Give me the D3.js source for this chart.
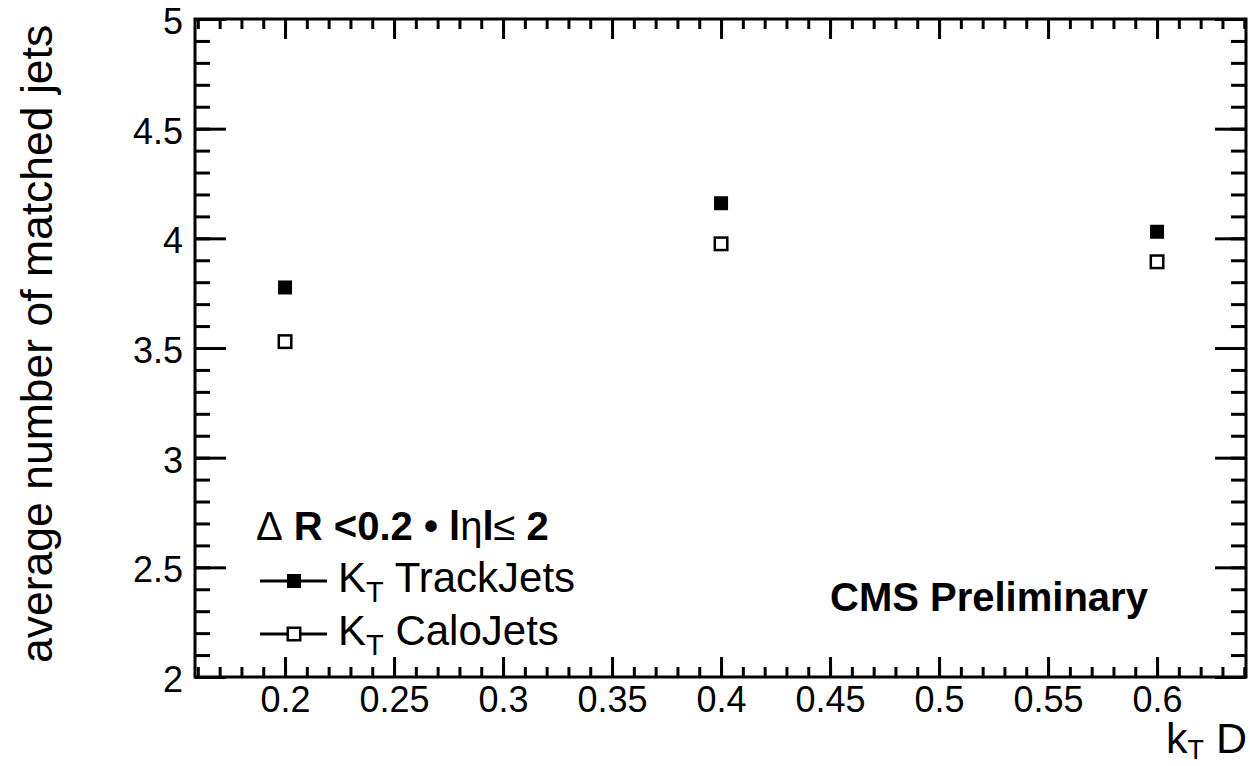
<!DOCTYPE html>
<html>
<head>
<meta charset="utf-8">
<script src="https://cdn.jsdelivr.net/npm/d3@7"></script>
<style>
  html, body { margin: 0; padding: 0; background: #fff; }
  svg { display: block; font-family: "Liberation Sans", Arial, Helvetica, sans-serif; }
</style>
</head>
<body>
<svg id="chart" width="1250" height="766"></svg>
<script>
// Jet distance parameter D of the kT algorithm
const kTD = [0.2, 0.4, 0.6];
// Average number of matched jets per event
const trackJets = [3.776, 4.160, 4.030];
const caloJets  = [3.529, 3.975, 3.893];

const xMajorTicks = [0.2, 0.25, 0.3, 0.35, 0.4, 0.45, 0.5, 0.55, 0.6];
const yMajorTicks = [2, 2.5, 3, 3.5, 4, 4.5, 5];

const xDomain = [0.1587, 0.6408];
const yDomain = [2, 5];

const frame = { left: 195, right: 1246, top: 19, bottom: 677 };

const svg = d3.select("#chart");

const x = d3.scaleLinear().domain(xDomain).range([frame.left, frame.right]);
const y = d3.scaleLinear().domain(yDomain).range([frame.bottom, frame.top]);

const xMinor = d3.range(16, 65).map(i => i / 100).filter(v => v >= xDomain[0] && v <= xDomain[1]);
const yMinor = d3.range(20, 51).map(i => i / 10);

const tickFont = 36;

function styleAxis(g) {
  g.select(".domain").remove();
  g.selectAll(".tick line").attr("stroke", "#000").attr("stroke-width", 3);
  g.selectAll(".tick text")
    .attr("fill", "#000")
    .attr("font-size", tickFont)
    .attr("font-family", "Liberation Sans, Arial, Helvetica, sans-serif");
}

// bottom axis: minor + major ticks pointing inward, labels below
svg.append("g").attr("transform", `translate(0,${frame.bottom})`)
  .call(d3.axisBottom(x).tickValues(xMinor).tickSize(-10).tickFormat(""))
  .call(styleAxis);
svg.append("g").attr("transform", `translate(0,${frame.bottom})`)
  .call(d3.axisBottom(x).tickValues(xMajorTicks).tickSize(-20).tickPadding(9)
        .tickFormat(d3.format(".2~f")))
  .call(styleAxis);

// top axis: ticks only
svg.append("g").attr("transform", `translate(0,${frame.top})`)
  .call(d3.axisTop(x).tickValues(xMinor).tickSize(-10).tickFormat(""))
  .call(styleAxis);
svg.append("g").attr("transform", `translate(0,${frame.top})`)
  .call(d3.axisTop(x).tickValues(xMajorTicks).tickSize(-20).tickFormat(""))
  .call(styleAxis);

// left axis
svg.append("g").attr("transform", `translate(${frame.left},0)`)
  .call(d3.axisLeft(y).tickValues(yMinor).tickSize(-15).tickFormat(""))
  .call(styleAxis);
const yAxisG = svg.append("g").attr("transform", `translate(${frame.left},0)`)
  .call(d3.axisLeft(y).tickValues(yMajorTicks).tickSize(-31).tickPadding(12)
        .tickFormat(d3.format("~g")))
  .call(styleAxis);
yAxisG.selectAll(".tick text").attr("dy", "0.4em");

// right axis: ticks only
svg.append("g").attr("transform", `translate(${frame.right},0)`)
  .call(d3.axisRight(y).tickValues(yMinor).tickSize(-15).tickFormat(""))
  .call(styleAxis);
svg.append("g").attr("transform", `translate(${frame.right},0)`)
  .call(d3.axisRight(y).tickValues(yMajorTicks).tickSize(-31).tickFormat(""))
  .call(styleAxis);

// frame
svg.append("rect")
  .attr("x", frame.left).attr("y", frame.top)
  .attr("width", frame.right - frame.left).attr("height", frame.bottom - frame.top)
  .attr("fill", "none").attr("stroke", "#000").attr("stroke-width", 3);

// markers
const msize = 14;
svg.append("g").selectAll("rect")
  .data(kTD.map((d, i) => ({ d, v: trackJets[i] })))
  .join("rect")
  .attr("x", p => x(p.d) - msize / 2)
  .attr("y", p => y(p.v) - msize / 2)
  .attr("width", msize).attr("height", msize)
  .attr("fill", "#000");

const osize = 12.5;
svg.append("g").selectAll("rect")
  .data(kTD.map((d, i) => ({ d, v: caloJets[i] })))
  .join("rect")
  .attr("x", p => x(p.d) - osize / 2)
  .attr("y", p => y(p.v) - osize / 2)
  .attr("width", osize).attr("height", osize)
  .attr("fill", "#fff").attr("stroke", "#000").attr("stroke-width", 2.5);

// axis titles
svg.append("text")
  .attr("transform", "translate(52,663) rotate(-90)")
  .attr("font-size", 44.5)
  .attr("text-anchor", "start")
  .text("average number of matched jets");

const xt = svg.append("text")
  .attr("x", 1247).attr("y", 753)
  .attr("text-anchor", "end")
  .attr("font-size", 43);
xt.append("tspan").text("k");
xt.append("tspan").attr("font-size", 27).attr("dy", 6).text("T");
xt.append("tspan").attr("dy", -6).text(" D");

// legend header
const hdr = svg.append("text")
  .attr("x", 256).attr("y", 540)
  .attr("font-size", 40).attr("font-weight", "bold");
hdr.append("tspan").attr("font-weight", "normal").text("\u0394");
hdr.append("tspan").text(" R <0.2 \u2022 l");
hdr.append("tspan").attr("font-weight", "normal").text("\u03B7");
hdr.append("tspan").text("l");
hdr.append("tspan").attr("font-weight", "normal").text("\u2264");
hdr.append("tspan").text(" 2");

// legend entries
const legendRows = [
  { y: 581, label: "TrackJets", filled: true },
  { y: 634, label: "CaloJets", filled: false }
];
const lg = svg.append("g");
legendRows.forEach(r => {
  lg.append("line")
    .attr("x1", 260).attr("x2", 327).attr("y1", r.y).attr("y2", r.y)
    .attr("stroke", "#000").attr("stroke-width", 3);
  if (r.filled) {
    lg.append("rect").attr("x", 294 - msize / 2).attr("y", r.y - msize / 2)
      .attr("width", msize).attr("height", msize).attr("fill", "#000");
  } else {
    lg.append("rect").attr("x", 294 - osize / 2).attr("y", r.y - osize / 2)
      .attr("width", osize).attr("height", osize)
      .attr("fill", "#fff").attr("stroke", "#000").attr("stroke-width", 2.5);
  }
  const t = lg.append("text").attr("x", 338).attr("y", r.y + 11).attr("font-size", 42);
  t.append("tspan").text("K");
  t.append("tspan").attr("font-size", 29).attr("dy", 10).text("T");
  t.append("tspan").attr("dy", -10).text(" " + r.label);
});

// experiment label
svg.append("text")
  .attr("x", 830).attr("y", 611)
  .attr("font-size", 40).attr("font-weight", "bold")
  .text("CMS Preliminary");
</script>
</body>
</html>
